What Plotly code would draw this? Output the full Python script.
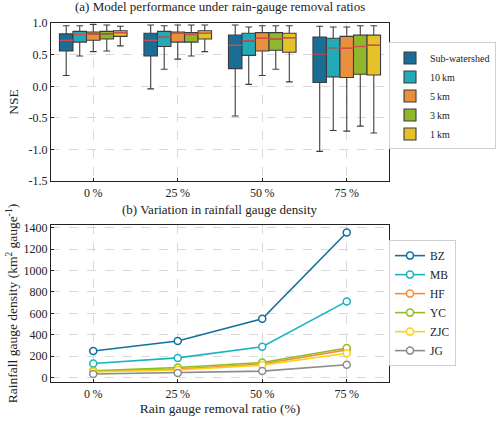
import plotly.graph_objects as go

# removal ratios (x categories)
ratios = ["0\u2009%", "25\u2009%", "50\u2009%", "75\u2009%"]

# NSE box statistics per interpolation resolution, one value per removal ratio
resolutions = ["Sub-watershed", "10\u2009km", "5\u2009km", "3\u2009km", "1\u2009km"]
nse_upper = [
    [0.96, 0.97, 0.97, 0.95],
    [0.96, 0.96, 0.94, 0.94],
    [0.98, 0.97, 0.96, 0.94],
    [0.97, 0.97, 0.96, 0.96],
    [0.95, 0.97, 0.96, 0.96],
]
nse_q3 = [
    [0.83, 0.84, 0.81, 0.78],
    [0.87, 0.87, 0.84, 0.76],
    [0.86, 0.86, 0.85, 0.79],
    [0.87, 0.85, 0.85, 0.81],
    [0.88, 0.88, 0.84, 0.81],
]
nse_median = [
    [0.73, 0.73, 0.65, 0.51],
    [0.82, 0.78, 0.72, 0.61],
    [0.83, 0.84, 0.76, 0.60],
    [0.83, 0.82, 0.75, 0.63],
    [0.85, 0.84, 0.77, 0.65],
]
nse_q1 = [
    [0.56, 0.48, 0.28, 0.06],
    [0.70, 0.63, 0.49, 0.15],
    [0.73, 0.70, 0.56, 0.14],
    [0.75, 0.70, 0.57, 0.19],
    [0.79, 0.75, 0.54, 0.18],
]
nse_lower = [
    [0.17, -0.04, -0.47, -1.03],
    [0.48, 0.27, 0.03, -0.70],
    [0.55, 0.43, 0.17, -0.71],
    [0.56, 0.48, 0.27, -0.63],
    [0.64, 0.55, 0.07, -0.74],
]
box_colors = ["#1a6d94", "#22abb6", "#e9903f", "#8fb62c", "#e5c229"]

# rainfall gauge density (km2 per gauge)
basins = ["BZ", "MB", "HF", "YC", "ZJC", "JG"]
density = [
    [250, 342, 550, 1355],
    [133, 185, 289, 712],
    [60, 80, 128, 260],
    [65, 95, 142, 277],
    [55, 72, 118, 228],
    [35, 45, 62, 121],
]
line_colors = ["#12709e", "#19b3c0", "#f28e3c", "#8fbd22", "#fcd116", "#8c8c8c"]

nse_ticks = [-1.5, -1.0, -0.5, 0.0, 0.5, 1.0]
density_ticks = [0, 200, 400, 600, 800, 1000, 1200, 1400]

font = "Liberation Serif"
box_w = 0.16

fig = go.Figure()

for i, name in enumerate(resolutions):
    offset = -0.4 + box_w * (i + 0.5)
    pos = [k + offset for k in range(len(ratios))]
    fig.add_trace(go.Box(
        name=name, x=pos,
        q1=nse_q1[i], median=nse_median[i], q3=nse_q3[i],
        lowerfence=nse_lower[i], upperfence=nse_upper[i],
        width=box_w, whiskerwidth=0.5,
        fillcolor=box_colors[i],
        line=dict(color="#3c3c3c", width=1.1),
        xaxis="x", yaxis="y", legend="legend",
    ))
    # red median lines drawn over the boxes
    mx, my = [], []
    for p, m in zip(pos, nse_median[i]):
        mx += [p - box_w / 2, p + box_w / 2, None]
        my += [m, m, None]
    fig.add_trace(go.Scatter(
        x=mx, y=my, mode="lines", showlegend=False, hoverinfo="skip",
        line=dict(color="rgba(224,80,80,0.9)", width=1.4),
        xaxis="x", yaxis="y",
    ))

for i, name in enumerate(basins):
    fig.add_trace(go.Scatter(
        x=list(range(len(ratios))), y=density[i], name=name,
        mode="lines+markers",
        line=dict(color=line_colors[i], width=1.6),
        marker=dict(size=7, color="white", line=dict(color=line_colors[i], width=1.5)),
        xaxis="x2", yaxis="y2", legend="legend2",
    ))

axis_common = dict(
    showline=True, linecolor="#222", linewidth=1.3, mirror=True,
    ticks="inside", ticklen=3, tickcolor="#222", automargin=False,
    showgrid=True, gridcolor="#d9d9d9", griddash="dash", gridwidth=0.8,
    zeroline=False, tickfont=dict(family=font, size=12, color="#222"),
)

fig.update_layout(
    width=500, height=421,
    margin=dict(l=0, r=0, t=0, b=0),
    paper_bgcolor="white", plot_bgcolor="white",
    font=dict(family=font, size=12, color="#222"),
    xaxis=dict(domain=[0.102, 0.778], anchor="y", range=[-0.5, 3.5],
               tickvals=list(range(len(ratios))), ticktext=ratios, **axis_common),
    yaxis=dict(domain=[0.570, 0.945], anchor="x", range=[-1.5, 1.0],
               tickvals=nse_ticks, ticktext=[f"{v:.1f}" for v in nse_ticks],
               title=dict(text="NSE", font=dict(family=font, size=13.5), standoff=6),
               **axis_common),
    xaxis2=dict(domain=[0.102, 0.778], anchor="y2", range=[-0.5, 3.5],
                tickvals=list(range(len(ratios))), ticktext=ratios,
                title=dict(text="Rain gauge removal ratio (%)", font=dict(family=font, size=13.5), standoff=2),
                **axis_common),
    yaxis2=dict(domain=[0.0926, 0.4656], anchor="x2", range=[-40, 1425],
                tickvals=density_ticks,
                title=dict(text="Rainfall gauge density (km<sup>2</sup> gauge<sup>-1</sup>)",
                           font=dict(family=font, size=13.5), standoff=2),
                **axis_common),
    legend=dict(x=0.992, y=0.772, xanchor="right", yanchor="middle",
                bgcolor="white", bordercolor="#d0d0d0", borderwidth=1,
                font=dict(family=font, size=10), tracegroupgap=0, itemwidth=30),
    legend2=dict(x=0.912, y=0.28, xanchor="right", yanchor="middle",
                 bgcolor="white", bordercolor="#d0d0d0", borderwidth=1,
                 font=dict(family=font, size=11.5), tracegroupgap=0),
    annotations=[
        dict(text="(a) Model performance under rain-gauge removal ratios",
             x=0.44, y=0.962, xref="paper", yref="paper", xanchor="center", yanchor="bottom",
             showarrow=False, font=dict(family=font, size=13)),
        dict(text="(b) Variation in rainfall gauge density",
             x=0.44, y=0.48, xref="paper", yref="paper", xanchor="center", yanchor="bottom",
             showarrow=False, font=dict(family=font, size=13)),
    ],
)

# drop the default page margin so the figure sits at the window's corner
fig.write_html("out.html", config={"displayModeBar": False},
               post_script="document.body.style.margin='0';")
